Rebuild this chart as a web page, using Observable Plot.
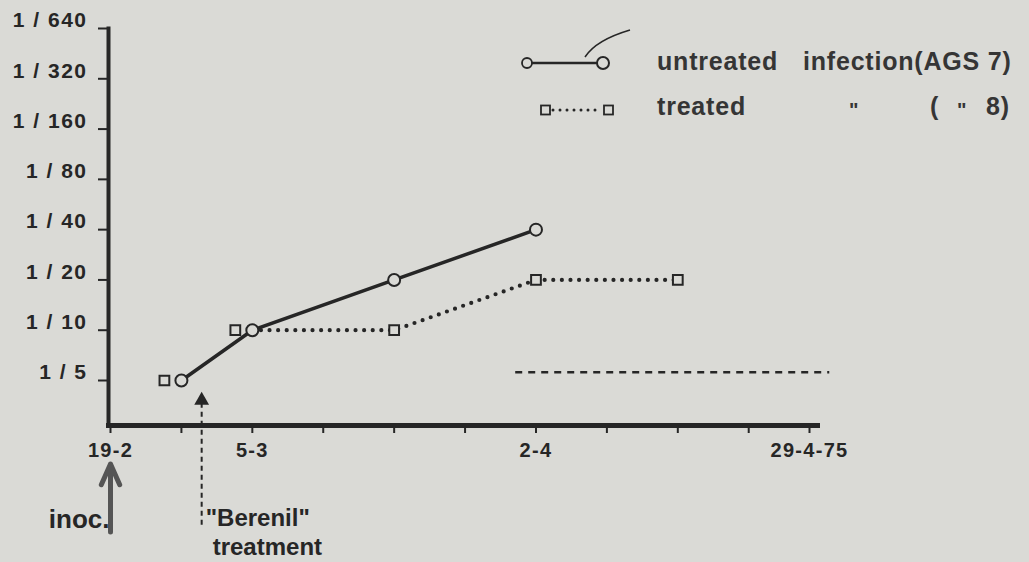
<!DOCTYPE html>
<html>
<head>
<meta charset="utf-8">
<script src="https://cdn.jsdelivr.net/npm/d3@7"></script>
<script src="https://cdn.jsdelivr.net/npm/@observablehq/plot@0.6"></script>
<style>
  html, body { margin: 0; padding: 0; background: #dadad6; }
  #wrap { position: relative; width: 1029px; height: 562px; overflow: hidden;
          font-family: 'Liberation Sans', Arial, sans-serif; }
  #wrap > svg { position: absolute; left: 0; top: 0; }
  g[aria-label="y-axis tick label"] text { letter-spacing: 1.5px; }
  g[aria-label="x-axis tick label"] text { letter-spacing: 1.3px; }
  .lg text { font-weight: bold; font-size: 25px; fill: #353535; letter-spacing: 0.8px; }
</style>
</head>
<body>
<div id="wrap"></div>
<script>
// ---- data ----
// titres are reciprocal dilutions: 5 means 1/5
const untreatedDates = ["1975-02-26", "1975-03-05", "1975-03-19", "1975-04-02"];
const untreatedTitre = [5, 10, 20, 40];
const treatedDates = ["1975-02-26", "1975-03-05", "1975-03-19", "1975-04-02", "1975-04-16"];
const treatedTitre = [5, 10, 10, 20, 20];
const titreTicks = [5, 10, 20, 40, 80, 160, 320, 640];
const weekTicks = ["1975-02-19", "1975-02-26", "1975-03-05", "1975-03-12", "1975-03-19", "1975-03-26",
                   "1975-04-02", "1975-04-09", "1975-04-16", "1975-04-23", "1975-04-29"];
const labelDates = ["1975-02-19", "1975-03-05", "1975-04-02", "1975-04-29"];
const labelTexts = ["19-2", "5-3", "2-4", "29-4-75"];
const referenceDates = ["1975-03-31", "1975-05-01"];
const referenceTitre = 5.6;
const inocDate = "1975-02-19";
const treatmentDate = "1975-02-28";

// ---- build ----
const parse = d3.utcParse("%Y-%m-%d");
const bg = "#dadad6", ink = "#262626";
const untreated = untreatedDates.map((d, i) => ({date: parse(d), titre: untreatedTitre[i]}));
const treated = treatedDates.map((d, i) => ({date: parse(d), titre: treatedTitre[i]}))
  .map(d => ({...d, shared: untreated.some(u => +u.date === +d.date && u.titre === d.titre)}));
const split = treated.findIndex(d => !d.shared);
const treatedLine = treated.slice(Math.max(0, split - 1));
const labelMap = new Map(labelDates.map((d, i) => [+parse(d), labelTexts[i]]));
const inoc = parse(inocDate), treat = parse(treatmentDate);

const chart = Plot.plot({
  width: 1029, height: 562,
  marginLeft: 108, marginRight: 212, marginTop: 28, marginBottom: 137,
  x: {type: "utc", domain: [parse("1975-02-19"), parse("1975-04-29")], range: [110, 809], label: null},
  y: {type: "log", base: 2, domain: [5, 640], range: [380, 28], label: null},
  style: {background: "transparent", fontFamily: "'Liberation Sans', Arial, sans-serif", color: ink, overflow: "visible"},
  marks: [
    Plot.frame({anchor: "left", stroke: ink, strokeWidth: 4}),
    Plot.frame({anchor: "bottom", stroke: ink, strokeWidth: 5}),
    Plot.axisY(titreTicks, {tickSize: 10, tickFormat: () => "", stroke: ink, strokeWidth: 2}),
    Plot.axisY(titreTicks, {tickSize: 0, tickPadding: 21, tickFormat: d => `1 / ${d}`, dy: -8,
                            fontSize: 21, fontWeight: "bold", fill: ink}),
    Plot.axisX(weekTicks.map(parse), {tickSize: 8, tickFormat: () => "", stroke: ink, strokeWidth: 2}),
    Plot.axisX(labelDates.map(parse), {tickSize: 0, tickPadding: 17, tickFormat: d => labelMap.get(+d),
                                       fontSize: 20, fontWeight: "bold", fill: ink}),
    // reference (dashed) level
    Plot.ruleY([{y: referenceTitre, x1: parse(referenceDates[0]), x2: parse(referenceDates[1])}],
               {y: "y", x1: "x1", x2: "x2", stroke: ink, strokeWidth: 2.5, strokeDasharray: "7 6"}),
    // series
    Plot.line(untreated, {x: "date", y: "titre", stroke: ink, strokeWidth: 3.5}),
    Plot.line(treatedLine, {x: "date", y: "titre", stroke: ink, strokeWidth: 4.2,
                            strokeDasharray: "0 8.6", strokeLinecap: "round"}),
    Plot.dot(untreated, {x: "date", y: "titre", r: 6, stroke: ink, strokeWidth: 2, fill: bg}),
    Plot.dot(treated.filter(d => d.shared), {x: "date", y: "titre", symbol: "square", r: 5.5,
                                             stroke: ink, strokeWidth: 2, fill: bg, dx: -17}),
    Plot.dot(treated.filter(d => !d.shared), {x: "date", y: "titre", symbol: "square", r: 5.5,
                                              stroke: ink, strokeWidth: 2, fill: bg}),
    // annotations
    Plot.arrow([{x: inoc, y1: 0.62, y2: 1.58}], {x1: "x", x2: "x", y1: "y1", y2: "y2",
               stroke: "#555", strokeWidth: 5, headLength: 20, headAngle: 48}),
    Plot.text([{x: inoc, y: 0.73, t: "inoc."}], {x: "x", y: "y", text: "t", textAnchor: "end", dx: -1,
               fontSize: 26, fontWeight: "bold", fill: ink}),
    Plot.ruleX([{x: treat, y1: 0.68, y2: 3.6}], {x: "x", y1: "y1", y2: "y2", stroke: ink,
               strokeWidth: 2, strokeDasharray: "5 4"}),
    Plot.dot([{x: treat, y: 3.8}], {x: "x", y: "y", symbol: "triangle", r: 5.5, fill: ink}),
    Plot.text([{x: treat, y: 0.75, t: "\"Berenil\""}], {x: "x", y: "y", text: "t", textAnchor: "start", dx: 4,
               fontSize: 24, fontWeight: "bold", fill: ink}),
    Plot.text([{x: treat, y: 0.5, t: "treatment"}], {x: "x", y: "y", text: "t", textAnchor: "start", dx: 11,
               fontSize: 24, fontWeight: "bold", fill: ink})
  ]
});
const wrap = document.getElementById("wrap");
wrap.appendChild(chart);

// ---- legend (overlay) ----
const ns = "http://www.w3.org/2000/svg";
const lg = document.createElementNS(ns, "svg");
lg.setAttribute("width", 1029); lg.setAttribute("height", 562); lg.setAttribute("class", "lg");
lg.innerHTML = `
  <path d="M585,57 Q596,40 630,30" fill="none" stroke="${ink}" stroke-width="1.5"/>
  <line x1="532" y1="63" x2="597" y2="63" stroke="${ink}" stroke-width="2.5"/>
  <circle cx="527" cy="63" r="5" fill="${bg}" stroke="${ink}" stroke-width="1.8"/>
  <circle cx="603" cy="63" r="6" fill="${bg}" stroke="${ink}" stroke-width="2"/>
  <line x1="553" y1="110" x2="602" y2="110" stroke="${ink}" stroke-width="3" stroke-dasharray="0 7" stroke-linecap="round"/>
  <rect x="541" y="105.5" width="9" height="9" fill="${bg}" stroke="${ink}" stroke-width="1.8"/>
  <rect x="604" y="105.5" width="9" height="9" fill="${bg}" stroke="${ink}" stroke-width="1.8"/>
  <text x="657" y="70">untreated</text>
  <text x="803" y="70">infection(AGS 7)</text>
  <text x="657" y="115">treated</text>
  <text x="849" y="117" style="font-size:20px">"</text>
  <text x="930" y="115">(</text>
  <text x="957" y="117" style="font-size:20px">"</text>
  <text x="986" y="115">8)</text>
`;
wrap.appendChild(lg);
</script>
</body>
</html>
